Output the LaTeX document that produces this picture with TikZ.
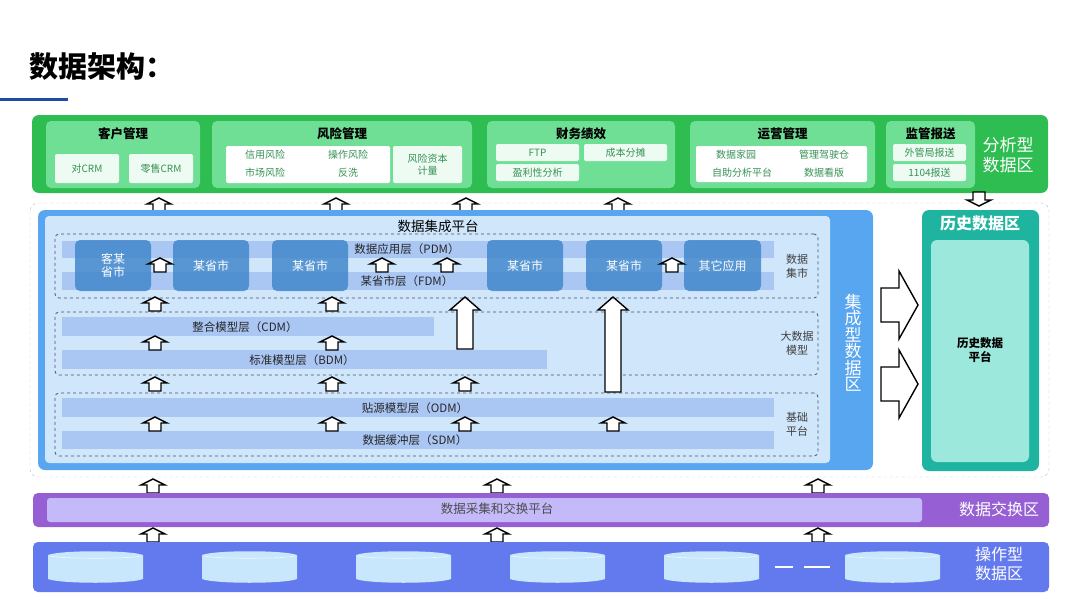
\documentclass[tikz,border=0pt]{standalone}
\usepackage{fontspec}
\setmainfont{Noto Sans CJK SC}
\usetikzlibrary{positioning}

\definecolor{anagreen}{RGB}{46,189,80}
\definecolor{anapanel}{RGB}{112,223,150}
\definecolor{anasub}{RGB}{238,251,242}
\definecolor{anatext}{RGB}{55,145,85}
\definecolor{intblue}{RGB}{88,165,240}
\definecolor{intlight}{RGB}{207,230,251}
\definecolor{intband}{RGB}{170,199,244}
\definecolor{intprov}{RGB}{66,136,205}
\definecolor{dashgray}{RGB}{70,80,110}
\definecolor{histteal}{RGB}{30,180,160}
\definecolor{histlight}{RGB}{157,232,221}
\definecolor{exchpurple}{RGB}{150,96,212}
\definecolor{exchlight}{RGB}{196,186,250}
\definecolor{opblue}{RGB}{98,122,238}
\definecolor{opcyl}{RGB}{200,230,252}
\definecolor{titleblue}{RGB}{30,75,165}

\tikzset{
  uparr/.pic={\draw[fill=white,line width=1.4pt] (0,-7) -- (12,-1) -- (6,-1) -- (6,7) -- (-6,7) -- (-6,-1) -- (-12,-1) -- cycle;}
}
\newcommand\tallarrow[3]{\draw[fill=white,line width=1.4pt] (#1,#2) -- (#1+15,#2+13) -- (#1+8,#2+13) -- (#1+8,#3) -- (#1-8,#3) -- (#1-8,#2+13) -- (#1-15,#2+13) -- cycle;}
\newcommand\widearrow[1]{\draw[fill=white,line width=1.4pt] (881,#1-17) -- (899,#1-17) -- (899,#1-34) -- (918,#1) -- (899,#1+34) -- (899,#1+17) -- (881,#1+17) -- cycle;}

\begin{document}
\begin{tikzpicture}[x=1pt,y=-1pt,
  zone/.style={rounded corners=7pt,inner sep=0pt},
  panel/.style={fill=anapanel,rounded corners=5pt,inner sep=0pt},
  subbox/.style={fill=anasub,rounded corners=2pt,inner sep=0pt,text=anatext,align=center,font=\fontsize{10}{12}\selectfont},
  subtxt/.style={text=anatext,font=\fontsize{10}{12}\selectfont},
  paneltitle/.style={font=\fontsize{12.5}{14}\selectfont\bfseries},
  zonelabel/.style={text=white,align=center,font=\fontsize{17}{20}\selectfont},
  band/.style={fill=intband,inner sep=0pt},
  layer/.style={text=black!85,font=\fontsize{11.5}{13}\selectfont},
  prov/.style={fill=intprov,fill opacity=.85,text opacity=1,text=white,rounded corners=5pt,minimum width=76pt,minimum height=51pt,inner sep=0pt,align=center,font=\fontsize{12}{13.5}\selectfont},
  group/.style={draw=dashgray,dashed,rounded corners=4pt,inner sep=0pt,line width=.8pt,minimum width=763pt,minimum height=63pt},
  grouplabel/.style={text=black!75,align=center,font=\fontsize{11}{14}\selectfont},
]
\useasboundingbox (0,0) rectangle (1080,608);

\node[anchor=west,font=\fontsize{29}{32}\selectfont\bfseries] (title) at (26,67) {数据架构：};
\draw[titleblue,line width=3pt] (0,99) -- (68,99);

\node[zone,fill=anagreen,minimum width=1016pt,minimum height=78pt] (ana) at (540,154) {};
\node[zonelabel] (analbl) at (1008,155) {分析型\\数据区};

\node[panel,minimum width=154pt,minimum height=67pt] (kehu) at (123,154.5) {};
\node[paneltitle,below=3pt of kehu.north] (kehut) {客户管理};
\node[subbox,minimum width=64pt,minimum height=29pt] (duicrm) at (87,168.5) {对CRM};
\node[subbox,minimum width=64pt,minimum height=29pt] (lscrm) at (161,168.5) {零售CRM};

\node[panel,minimum width=260pt,minimum height=67pt] (fengxian) at (342,154.5) {};
\node[paneltitle,below=3pt of fengxian.north] (fengxiant) {风险管理};
\node[subbox,fill=white,minimum width=164pt,minimum height=37pt] (fxbox) at (308,164.5) {};
\node[subtxt] (xyfx) at (265,155) {信用风险};
\node[subtxt] (czfx) at (348,155) {操作风险};
\node[subtxt] (scfx) at (265,173) {市场风险};
\node[subtxt] (fx) at (348,173) {反洗};
\node[subbox,minimum width=69pt,minimum height=37pt] (zbjl) at (427.5,164.5) {风险资本\\计量};

\node[panel,minimum width=188pt,minimum height=67pt] (caiwu) at (581,154.5) {};
\node[paneltitle,below=3pt of caiwu.north] (caiwut) {财务绩效};
\node[subbox,minimum width=83pt,minimum height=17pt] (ftp) at (537.5,152.5) {FTP};
\node[subbox,minimum width=83pt,minimum height=17pt] (cbft) at (625.5,152.5) {成本分摊};
\node[subbox,minimum width=83pt,minimum height=17pt] (ylx) at (537.5,172.5) {盈利性分析};

\node[panel,minimum width=185pt,minimum height=67pt] (yunying) at (782.5,154.5) {};
\node[paneltitle,below=3pt of yunying.north] (yunyingt) {运营管理};
\node[subbox,fill=white,minimum width=171pt,minimum height=36pt] (yybox) at (781.5,164) {};
\node[subtxt] (sjjy) at (736,155) {数据家园};
\node[subtxt] (gljsc) at (824,155) {管理驾驶仓};
\node[subtxt] (zzfx) at (742,173) {自助分析平台};
\node[subtxt] (sjkb) at (824,173) {数据看版};

\node[panel,minimum width=89pt,minimum height=67pt] (jianguan) at (930.5,154.5) {};
\node[paneltitle,below=3pt of jianguan.north] (jianguant) {监管报送};
\node[subbox,minimum width=73pt,minimum height=17pt] (wgj) at (929.5,152.5) {外管局报送};
\node[subbox,minimum width=73pt,minimum height=17pt] (bs1104) at (929.5,172.5) {1104报送};

\foreach \x in {159,336,466,618} \pic at (\x,205) {uparr};
\pic[rotate=180] at (979,199) {uparr};

\draw[gray!50,dashed,rounded corners=8pt] (30,203) rectangle (1049,477);

\node[zone,fill=intblue,minimum width=835pt,minimum height=260pt] (jicheng) at (455.5,340) {};
\node[fill=intlight,rounded corners=4pt,inner sep=0pt,minimum width=785pt,minimum height=247pt] (platform) at (437.5,339.5) {};
\node[font=\fontsize{13.5}{15}\selectfont] (platformt) at (438,226) {数据集成平台};
\node[zonelabel,font=\fontsize{17}{16.5}\selectfont] (jichenglbl) at (853,343) {集\\成\\型\\数\\据\\区};

\node[group,minimum height=64pt] (shiji) at (436.5,266) {};
\fill[intband] (62,241) rectangle (774,258);
\fill[intband] (62,272) rectangle (774,290);
\node[prov] (p1) at (113,265.5) {客某\\省市};
\node[prov] (p2) at (211,265.5) {某省市};
\node[prov] (p3) at (310,265.5) {某省市};
\node[prov] (p4) at (525,265.5) {某省市};
\node[prov] (p5) at (624,265.5) {某省市};
\node[prov,minimum width=77pt] (p6) at (722.5,265.5) {其它应用};
\node[layer] (pdm) at (407,249) {数据应用层（PDM）};
\node[layer] (fdm) at (407,281) {某省市层（FDM）};
\node[grouplabel] (shijil) at (797,266) {数据\\集市};
\foreach \x in {160,382,447,672} \pic at (\x,265) {uparr};

\node[group] (dashuju) at (436.5,343.5) {};
\fill[intband] (62,317) rectangle (434,336);
\fill[intband] (62,350) rectangle (547,369);
\node[layer] (cdm) at (245,327) {整合模型层（CDM）};
\node[layer] (bdm) at (302,360) {标准模型层（BDM）};
\node[grouplabel] (dashujul) at (797,343) {大数据\\模型};

\node[group] (jichu) at (436.5,424.5) {};
\fill[intband] (62,398) rectangle (774,417);
\fill[intband] (62,431) rectangle (774,449);
\node[layer] (odm) at (415,408) {贴源模型层（ODM）};
\node[layer] (sdm) at (415,440) {数据缓冲层（SDM）};
\node[grouplabel] (jichul) at (797,424) {基础\\平台};

\foreach \x in {155,332} \pic at (\x,304) {uparr};
\foreach \x in {155,332} \pic at (\x,343) {uparr};
\foreach \x in {155,332,465} \pic at (\x,384) {uparr};
\foreach \x in {155,332,465,613} \pic at (\x,424) {uparr};
\tallarrow{465}{297}{349}
\tallarrow{613}{297}{392}

\node[zone,fill=histteal,minimum width=117pt,minimum height=261pt] (lishi) at (980.5,340.5) {};
\node[text=white,font=\fontsize{16}{18}\selectfont\bfseries] (lishit) at (980,223) {历史数据区};
\node[fill=histlight,rounded corners=6pt,inner sep=0pt,minimum width=98pt,minimum height=222pt] (lishipt) at (980,351) {};
\node[align=center,font=\fontsize{11.5}{14}\selectfont\bfseries] (lishiptl) at (980,350) {历史数据\\平台};
\widearrow{305}
\widearrow{384}

\foreach \x in {153,497,818} \pic at (\x,486) {uparr};
\node[zone,rounded corners=5pt,fill=exchpurple,minimum width=1016pt,minimum height=34pt] (jiaohuan) at (541,510) {};
\node[fill=exchlight,rounded corners=3pt,inner sep=0pt,minimum width=875pt,minimum height=24pt] (jiaohuanpt) at (484.5,510) {};
\node[text=black!70,font=\fontsize{12.5}{14}\selectfont] (jiaohuanptl) at (497,509) {数据采集和交换平台};
\node[zonelabel,font=\fontsize{16}{18}\selectfont] (jiaohuanl) at (999,509) {数据交换区};
\foreach \x in {153,497,818} \pic at (\x,535) {uparr};

\node[zone,rounded corners=5pt,fill=opblue,minimum width=1016pt,minimum height=50pt] (caozuo) at (541,567) {};
\node[zonelabel,font=\fontsize{16}{18.5}\selectfont] (caozuol) at (999,564) {操作型\\数据区};
\foreach \a in {48,202,356,510,664,845} {
  \fill[opcyl] (\a,555) .. controls (\a+12,550) and (\a+83,550) .. (\a+95,555) -- (\a+95,579) .. controls (\a+83,584) and (\a+12,584) .. (\a,579) -- cycle;
  \draw[white!70!opcyl,line width=.6pt] (\a+2,556) .. controls (\a+14,559) and (\a+81,559) .. (\a+93,556);
}
\draw[white,line width=2.5pt] (775,567) -- (793,567);
\draw[white,line width=2.5pt] (804,567) -- (830,567);
\end{tikzpicture}
\end{document}
